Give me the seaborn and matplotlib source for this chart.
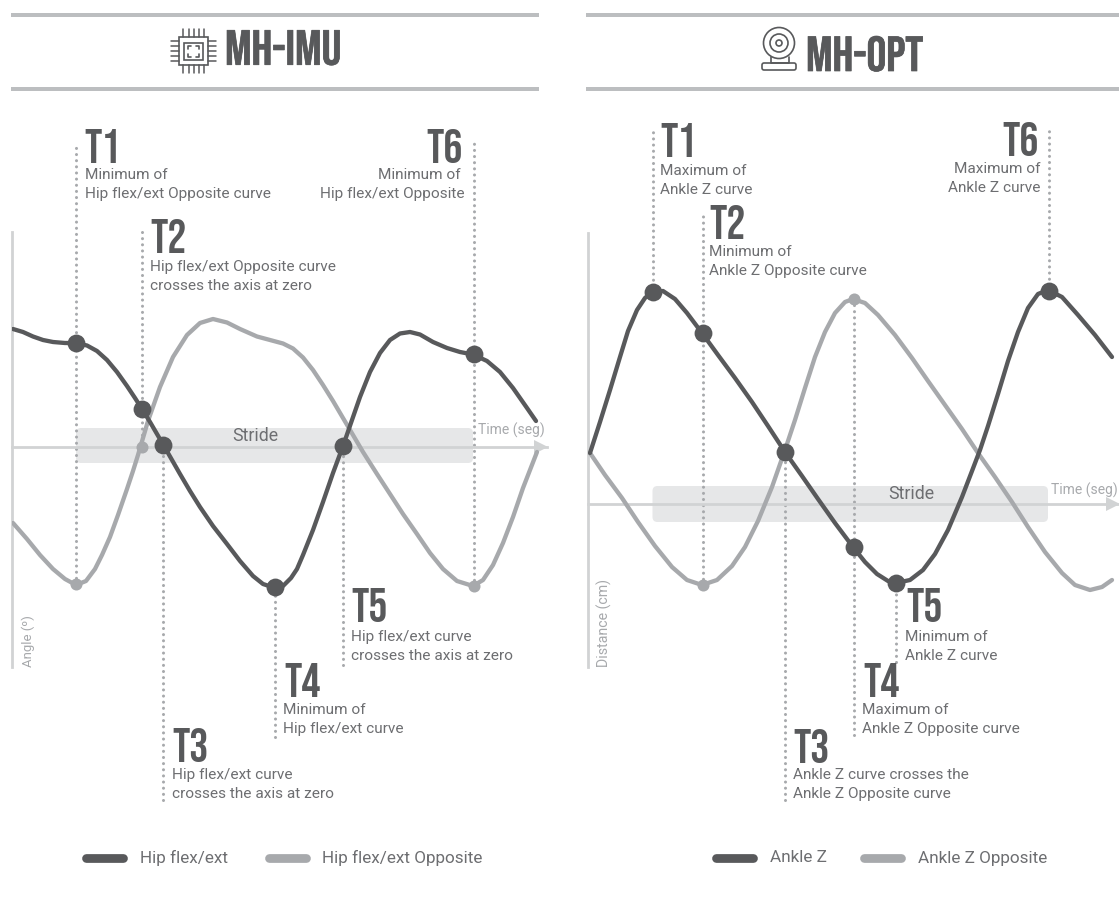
import numpy as np
import pandas as pd
import seaborn as sns
import matplotlib.pyplot as plt
import matplotlib.patheffects as pe
from matplotlib.patches import Circle, FancyBboxPatch, Rectangle

# left panel, hip curves
hip_t = [1, 11, 21, 31, 41, 53, 64, 75, 85, 95, 105, 115, 123, 130, 138, 145, 152, 160, 168, 178, 188, 201, 215, 228, 241, 251, 263, 271, 279, 285, 291, 301, 311, 321, 331, 340, 348, 358, 368, 378, 388, 398, 408, 421, 435, 448, 461, 475, 488, 501, 515, 524]
hip_v = [118, 115, 110.5, 107, 105, 104, 104, 101.5, 96, 87, 75, 61, 49, 38, 25, 13, 1, -13, -27, -44, -60, -79, -97, -114, -129, -137, -141, -139, -131, -122, -108, -83, -55, -26, 1, 27, 50, 75, 94, 107, 113.5, 115, 112.5, 105, 99, 95, 92.5, 86, 75, 59, 39, 26]
hip_opp_t = [1, 15, 28, 41, 53, 64, 74, 83, 90, 98, 106, 115, 121, 126, 136, 148, 161, 175, 188, 201, 215, 228, 245, 258, 271, 281, 291, 301, 311, 321, 331, 341, 351, 365, 378, 391, 405, 418, 431, 445, 461, 471, 481, 491, 501, 511, 525]
hip_opp_v = [-76, -92, -108, -122, -132, -138, -134, -122, -108, -90, -68, -42, -24, -8, 26, 60, 90, 112, 124, 128, 124.5, 118, 110.5, 107, 103.5, 98.5, 89.5, 77, 62, 46, 29, 12, -5, -27, -47, -67, -87, -106, -122, -134, -139, -133, -118, -96, -70, -41, -5]

# right panel, ankle curves
ankle_t = [2, 12, 22, 32, 40, 49, 57, 64, 75, 87, 99, 114, 130, 147, 164, 180, 197, 214, 230, 247, 265, 277, 289, 300, 308, 322, 335, 347, 360, 374, 384, 392, 400, 410, 420, 430, 440, 450, 460, 474, 490, 507, 524]
ankle_v = [51, 82, 114, 147, 173, 194, 206, 212, 213, 205, 191, 171, 149, 126, 102, 78, 52, 28, 5, -19, -43, -58, -70, -77, -79, -76, -66, -50, -26, 7, 33, 54, 78, 110, 143, 172, 196, 210, 214, 207, 189, 169, 147]
ankle_opp_t = [2, 17, 34, 50, 67, 84, 99, 114, 129, 144, 157, 170, 184, 197, 207, 217, 227, 237, 247, 257, 265, 277, 290, 307, 324, 340, 357, 374, 390, 407, 424, 440, 457, 474, 487, 502, 514, 524]
ankle_opp_v = [51, 29, 6, -18, -42, -63, -76, -81, -76, -62, -43, -17, 17, 54, 84, 116, 147, 172, 191, 202, 205, 201, 189, 169, 146, 123, 99, 75, 51, 27, 2, -23, -48, -69, -81, -86, -83, -76]

# events T1..T6
hip_event_t = [64, 130, 151, 263, 331, 461.5]
hip_event_v = [104.5, 38, 2, -140, 1, 93]
hip_opp_event_t = [64, 130, 461.5]
hip_opp_event_v = [-137, 0, -139]
ankle_event_t = [64.5, 115, 197, 266, 308, 460.5]
ankle_event_v = [212, 171, 52, -43, -79, 213]
ankle_opp_event_t = [115, 266]
ankle_opp_event_v = [-81, 205]

hip_texts = [
    ("T1", "Minimum of\nHip flex/ext Opposite curve"),
    ("T2", "Hip flex/ext Opposite curve\ncrosses the axis at zero"),
    ("T3", "Hip flex/ext curve\ncrosses the axis at zero"),
    ("T4", "Minimum of\nHip flex/ext curve"),
    ("T5", "Hip flex/ext curve\ncrosses the axis at zero"),
    ("T6", "Minimum of \nHip flex/ext Opposite"),
]
ankle_texts = [
    ("T1", "Maximum of\nAnkle Z curve"),
    ("T2", "Minimum of\nAnkle Z Opposite curve"),
    ("T3", "Ankle Z curve crosses the\nAnkle Z Opposite curve"),
    ("T4", "Maximum of\nAnkle Z Opposite curve"),
    ("T5", "Minimum of\nAnkle Z curve"),
    ("T6", "Maximum of\nAnkle Z curve"),
]

DARK = "#58595b"
LIGHT = "#a7a9ac"
AXIS = "#d1d3d4"
BAND = "#e6e7e8"
RULE = "#bcbec0"
TEXT = "#6d6e71"
W, H = 1119, 900

sns.set_theme(style="white")
plt.rcParams["font.family"] = ["Roboto", "DejaVu Sans"]
fig = plt.figure(figsize=(W / 100, H / 100), dpi=100)

# overlay in pixel units for headers, labels and legend
over = fig.add_axes([0, 0, 1, 1], zorder=5)
over.set_xlim(0, W)
over.set_ylim(H, 0)
over.axis("off")
over.patch.set_alpha(0)


def make_panel(x0, x1, ytop, ybot, y0):
    ax = fig.add_axes([x0 / W, 1 - ybot / H, (x1 - x0) / W, (ybot - ytop) / H])
    ax.set_xlim(0, x1 - x0)
    ax.set_ylim(y0 - ybot, y0 - ytop)
    ax.patch.set_alpha(0)
    for s in ["top", "right"]:
        ax.spines[s].set_visible(False)
    ax.spines["bottom"].set_position(("data", 0))
    for s in ["left", "bottom"]:
        ax.spines[s].set_color(AXIS)
        ax.spines[s].set_linewidth(2)
    ax.plot(x1 - x0 - 6, 0, ">", color=AXIS, ms=10, mew=0, clip_on=False, zorder=2)
    return ax


def draw_curves(ax, t, v, t2, v2, ev_t, ev_v, ev2_t, ev2_v, tops, bottoms, band):
    ax.vlines(ev_t, bottoms, tops, color=LIGHT, lw=2.2, linestyles=[(0, (0.01, 2.0))],
              capstyle="round", clip_on=False, zorder=1.5)
    ax.add_patch(FancyBboxPatch((band[0], band[2]), band[1] - band[0], band[3] - band[2],
                                boxstyle="round,pad=0,rounding_size=5", fc=BAND, ec="none", zorder=0.5))
    for xs, ys, col in [(t2, v2, LIGHT), (t, v, DARK)]:
        sns.lineplot(x=xs, y=ys, ax=ax, color=col, lw=3.1, sort=False, estimator=None,
                     zorder=3, solid_capstyle="round", solid_joinstyle="round")
    sns.scatterplot(x=ev2_t, y=ev2_v, ax=ax, color=LIGHT, s=75, linewidth=0, zorder=3.2, clip_on=False)
    sns.scatterplot(x=ev_t, y=ev_v, ax=ax, color=DARK, s=165, linewidth=0, zorder=4, clip_on=False)
    ax.set_xlabel("")
    ax.set_ylabel("")
    ax.set_xticks([])
    ax.set_yticks([])


ax_l = make_panel(12, 547, 232, 667, 447)
draw_curves(ax_l, hip_t, hip_v, hip_opp_t, hip_opp_v, hip_event_t, hip_event_v,
            hip_opp_event_t, hip_opp_event_v,
            [304, 215, 2, -140, 1, 306], [-137, 0, -353, -290, -218, -139], (64, 461, -16, 19))
ax_r = make_panel(588, 1119, 233, 667, 504)
draw_curves(ax_r, ankle_t, ankle_v, ankle_opp_t, ankle_opp_v, ankle_event_t, ankle_event_v,
            ankle_opp_event_t, ankle_opp_event_v,
            [374, 289, 52, 205, -79, 374], [212, -81, -296, -231, -158, 213], (64.5, 460, -18, 18))

# header rules and titles
TITLE_FONT = ["Bebas Neue", "Oswald", "Barlow Condensed", "DejaVu Sans"]
heavy = [pe.withStroke(linewidth=0.5, foreground=DARK)]
for x0, x1 in [(11, 539), (586, 1119)]:
    for y in [15, 89]:
        over.add_patch(Rectangle((x0, y - 2.3), x1 - x0, 4.6, fc=RULE, ec="none"))
over.text(225, 47.5, "MH-IMU", fontsize=35.5, family=TITLE_FONT, color=DARK, va="center", path_effects=heavy)
over.text(806, 53.5, "MH-OPT", fontsize=35.5, family=TITLE_FONT, color=DARK, va="center", path_effects=heavy)

# chip icon
over.add_patch(Rectangle((179, 37), 29, 28, fc="white", ec=DARK, lw=1.2))
over.add_patch(Rectangle((184, 43), 19, 17, fc="white", ec=DARK, lw=1.2))
for p in [183, 189, 194, 199, 204]:
    over.plot([p, p], [29, 37], color=DARK, lw=1.1)
    over.plot([p, p], [65, 73], color=DARK, lw=1.1)
for p in [41, 46, 51, 56, 61]:
    over.plot([171, 179], [p, p], color=DARK, lw=1.1)
    over.plot([208, 216], [p, p], color=DARK, lw=1.1)
for cx, cy, dx, dy in [(188, 46, 3, 3), (199, 46, -3, 3), (188, 57, 3, -3), (199, 57, -3, -3)]:
    over.plot([cx + dx, cx, cx], [cy, cy, cy + dy], color=DARK, lw=1.2)

# webcam icon
over.add_patch(Circle((779, 43), 15.5, fc="white", ec=DARK, lw=1.2))
over.add_patch(Circle((779, 43), 9, fc="white", ec=DARK, lw=1.2))
over.add_patch(Circle((779, 43), 3, fc="white", ec=DARK, lw=1.2))
over.plot([771, 771, 789, 789], [57, 63, 63, 57], color=DARK, lw=1.2)
over.add_patch(FancyBboxPatch((762, 63), 34, 7, boxstyle="round,pad=0,rounding_size=2", fc="white", ec=DARK, lw=1.2))

# event labels: big x, big centre y, text x, first text y, alignment
hip_pos = [(84, 146, 85, 175, "left"), (150, 236, 150, 267, "left"), (172, 745, 172, 775, "left"),
           (284, 680, 283, 710, "left"), (351, 605, 351, 637, "left"), (463, 146, 465, 175, "right")]
ankle_pos = [(660, 140, 660, 171, "left"), (709, 222, 709, 252, "left"), (793, 746, 793, 775, "left"),
             (863, 680, 862, 710, "left"), (906, 605, 905, 637, "left"), (1039, 139, 1041, 169, "right")]
for texts, pos in [(hip_texts, hip_pos), (ankle_texts, ankle_pos)]:
    for (big, small), (bx, by, tx, ty, ha) in zip(texts, pos):
        over.text(bx, by, big, fontsize=34, family=TITLE_FONT, color=DARK, ha=ha, va="center")
        for k, line in enumerate(small.split("\n")):
            over.text(tx, ty + 19 * k, line, fontsize=11.1, color=TEXT, ha=ha, va="center")

# axis words
over.text(255, 436, "Stride", fontsize=12.8, color=TEXT, ha="center", va="center")
over.text(911, 494, "Stride", fontsize=12.8, color=TEXT, ha="center", va="center")
over.text(478, 430, "Time (seg)", fontsize=10, color=LIGHT, va="center")
over.text(1051, 490, "Time (seg)", fontsize=10, color=LIGHT, va="center")
over.text(28, 667, "Angle (º)", fontsize=9.5, color=LIGHT, rotation=90, ha="center", va="bottom")
over.text(604, 667, "Distance (cm)", fontsize=10.2, color=LIGHT, rotation=90, ha="center", va="bottom")

# legend
for x0, col, label in [(81, DARK, "Hip flex/ext"), (264, LIGHT, "Hip flex/ext Opposite"),
                       (711, DARK, "Ankle Z"), (859, LIGHT, "Ankle Z Opposite")]:
    over.plot([x0 + 4.5, x0 + 41.5], [858, 858], color=col, lw=6.3, solid_capstyle="round")
    over.text(x0 + 58.5, 858, label, fontsize=12.3, color=TEXT, va="center")

fig.savefig("out.png", dpi=100, facecolor="white")
